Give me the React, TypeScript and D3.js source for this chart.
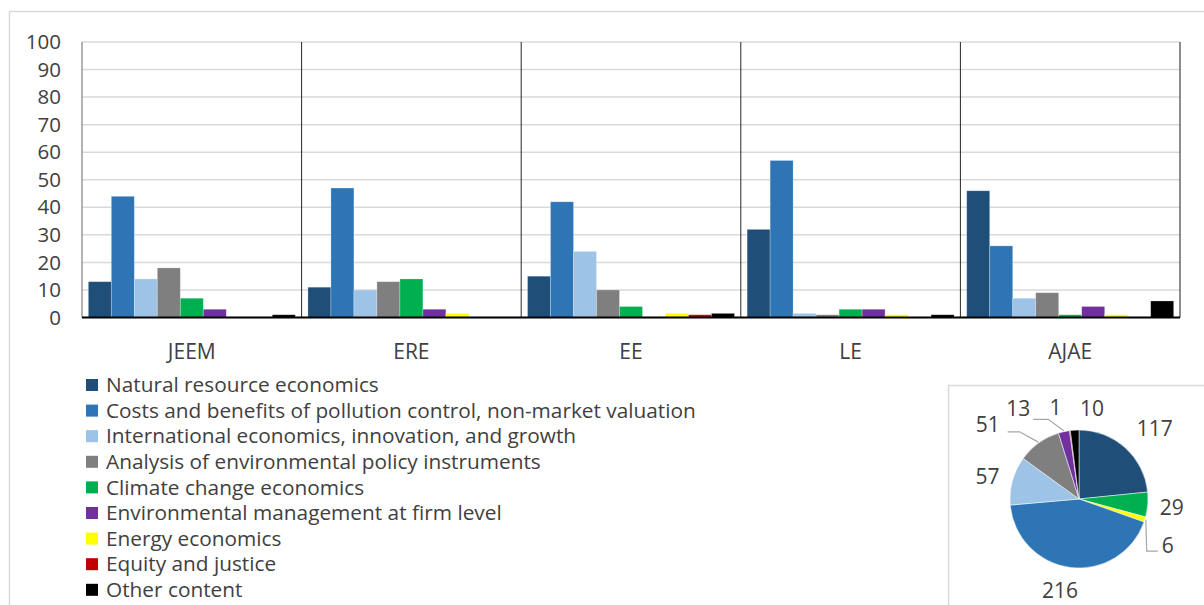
import React from 'react';
import * as d3 from 'd3';

const journals = ['JEEM', 'ERE', 'EE', 'LE', 'AJAE'];
const topics = [
  'Natural resource economics',
  'Costs and benefits of pollution control, non-market valuation',
  'International economics, innovation, and growth',
  'Analysis of environmental policy instruments',
  'Climate change economics',
  'Environmental management at firm level',
  'Energy economics',
  'Equity and justice',
  'Other content',
];
const topicColors = ['#1F4E79', '#2E75B6', '#9DC3E6', '#7F7F7F', '#00B050', '#7030A0', '#FFFF00', '#C00000', '#000000'];

const jeem = [13, 44, 14, 18, 7, 3, 0, 0, 1];
const ere = [11, 47, 10, 13, 14, 3, 1.5, 0, 0];
const ee = [15, 42, 24, 10, 4, 0, 1.5, 1, 1.5];
const le = [32, 57, 1.5, 1, 3, 3, 1, 0, 1];
const ajae = [46, 26, 7, 9, 1, 4, 1, 0, 6];
const journalValues = [jeem, ere, ee, le, ajae];

const yTicks = [0, 10, 20, 30, 40, 50, 60, 70, 80, 90, 100];

// pie: total counts per topic and the slice order used in the pie
const pieCounts = [117, 216, 57, 51, 29, 13, 6, 1, 10];
const pieOrder = [0, 4, 6, 1, 2, 3, 5, 7, 8];

const W = 1204;
const H = 605;
const FONT = '"Open Sans", "Liberation Sans", sans-serif';
const TXT = '#404040';

// label nudges (layout only) for pie labels, indexed by topic
const pieLabelNudge: Record<number, [number, number]> = {
  0: [12, 0],
  4: [-2, 1],
  6: [-2, 18],
  1: [-7, -3],
  2: [0, 3],
  3: [-36, 3],
  5: [-40, 2],
  7: [-11, 3],
  8: [19, 4],
};

export default function App() {
  const plotL = 82;
  const plotR = 1180;
  const plotT = 42;
  const plotB = 317.5;

  const x0 = d3.scaleBand<string>().domain(journals).range([plotL, plotR]).padding(0);
  const x1 = d3
    .scaleBand<number>()
    .domain(d3.range(topics.length))
    .range([0, x0.bandwidth()])
    .paddingInner(0)
    .paddingOuter(0.275);
  const y = d3.scaleLinear().domain([0, 100]).range([plotB, plotT]);

  // pie
  const cx = 1079;
  const cy = 499;
  const r = 69;
  const pieData = pieOrder.map((i) => ({ topic: i, value: pieCounts[i] }));
  const arcs = d3
    .pie<{ topic: number; value: number }>()
    .sort(null)
    .value((d) => d.value)(pieData);
  const arcGen = d3.arc<d3.PieArcDatum<{ topic: number; value: number }>>().innerRadius(0).outerRadius(r);

  const polar = (ang: number, rad: number): [number, number] => [cx + rad * Math.sin(ang), cy - rad * Math.cos(ang)];

  const labels = arcs.map((a) => {
    const mid = (a.startAngle + a.endAngle) / 2;
    const [lx, ly] = polar(mid, 95);
    const n = pieLabelNudge[a.data.topic] || [0, 0];
    return { a, mid, x: lx + n[0], y: ly + n[1] };
  });
  const labelOf = (t: number) => labels.find((l) => l.a.data.topic === t)!;

  // leader lines
  const l6 = labelOf(6);
  const l51 = labelOf(3);
  const l13 = labelOf(5);
  const leaders: [number, number][][] = [
    [polar(l6.mid, r + 1), [l6.x - 21, l6.y + 6], [l6.x - 10, l6.y + 6]],
    [polar(l51.mid, r + 1), [l51.x + 32, l51.y + 7], [l51.x + 20, l51.y + 7]],
    [polar(l13.mid, r + 1), [l13.x + 30, l13.y + 11], [l13.x + 15, l13.y + 11]],
  ];

  return (
    <svg
      width={W}
      height={H}
      style={{ position: 'absolute', left: 0, top: 0, background: '#fff' }}
      fontFamily={FONT}
    >
      {/* outer chart border */}
      <rect x={9.5} y={11.5} width={W + 10} height={H + 10} fill="none" stroke="#d9d9d9" strokeWidth={1.5} />

      {/* gridlines */}
      {yTicks.map((t) => (
        <line key={t} x1={plotL} x2={plotR} y1={y(t)} y2={y(t)} stroke="#d9d9d9" strokeWidth={1.5} />
      ))}

      {/* bars */}
      {journals.map((j, gi) =>
        journalValues[gi].map((v, si) =>
          v > 0 ? (
            <rect
              key={j + si}
              x={(x0(j) as number) + (x1(si) as number)}
              y={y(v)}
              width={x1.bandwidth()}
              height={plotB - y(v)}
              fill={topicColors[si]}
              stroke="#ffffff"
              strokeOpacity={0.35}
              strokeWidth={0.75}
            />
          ) : null
        )
      )}

      {/* axes */}
      <line x1={plotL} x2={plotL} y1={plotT} y2={plotB} stroke="#808080" strokeWidth={1.2} />
      {journals.slice(1).map((j) => (
        <line key={j} x1={x0(j) as number} x2={x0(j) as number} y1={plotT} y2={plotB} stroke="#262626" strokeWidth={1} />
      ))}
      <line x1={plotR} x2={plotR} y1={plotT} y2={plotB} stroke="#404040" strokeWidth={1.2} />
      <line x1={plotL} x2={plotR} y1={plotB} y2={plotB} stroke="#000" strokeWidth={2.2} />

      {/* y tick labels */}
      {yTicks.map((t) => (
        <text key={t} x={61} y={y(t)} dy="0.35em" textAnchor="end" fontSize={20.5} fill={TXT}>
          {t}
        </text>
      ))}

      {/* category labels */}
      {journals.map((j) => (
        <text
          key={j}
          x={(x0(j) as number) + x0.bandwidth() / 2}
          y={352}
          dy="0.35em"
          textAnchor="middle"
          fontSize={21}
          fill={TXT}
        >
          {j}
        </text>
      ))}

      {/* legend */}
      {topics.map((t, i) => (
        <g key={t} transform={`translate(86, ${385 + i * 25.6})`}>
          <rect x={0} y={-6} width={12} height={12} fill={topicColors[i]} />
          <text x={20} y={0} dy="0.35em" fontSize={20.8} fill={TXT}>
            {t}
          </text>
        </g>
      ))}

      {/* pie box */}
      <rect x={948.5} y={385.5} width={300} height={300} fill="#fff" stroke="#d9d9d9" strokeWidth={1.5} />

      {/* pie */}
      <g transform={`translate(${cx}, ${cy})`}>
        {arcs.map((a) => (
          <path key={a.data.topic} d={arcGen(a) as string} fill={topicColors[a.data.topic]} stroke="#fff" strokeWidth={0.5} />
        ))}
      </g>
      {leaders.map((pts, i) => (
        <polyline key={i} points={pts.map((p) => p.join(',')).join(' ')} fill="none" stroke="#a6a6a6" strokeWidth={1.2} />
      ))}
      {labels.map((l) => (
        <text key={l.a.data.topic} x={l.x} y={l.y} dy="0.35em" textAnchor="middle" fontSize={21} fill={TXT}>
          {l.a.data.value}
        </text>
      ))}
    </svg>
  );
}
